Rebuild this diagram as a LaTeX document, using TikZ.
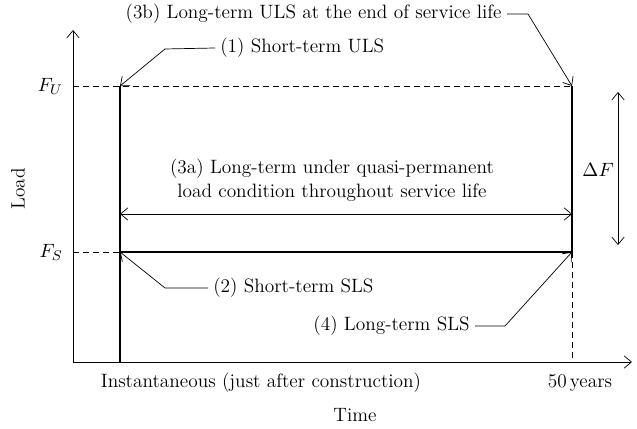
\documentclass[tikz,border=0pt]{standalone}
\usepackage{amsmath}
\usepackage{tikz}
\usetikzlibrary{arrows.meta}
\begin{document}
\begin{tikzpicture}[
  tip/.style={-{Straight Barb[length=4.2pt,width=7pt]}},
  axisline/.style={thin,linecolor},
  loadline/.style={line width=1.5pt,linecolor},
  guideline/.style={thin,linecolor,dash pattern=on 3.4pt off 2.3pt},
  leader/.style={thin,linecolor,tip},
  label/.style={inner sep=0.1cm,font=\fontsize{11pt}{13.9pt}\selectfont}
]
\definecolor{linecolor}{RGB}{0,0,0}
\useasboundingbox (0,0) rectangle (12.74,8.58);
\coordinate (origin) at (1.46,1.34);
\coordinate (ytop) at (1.46,7.98);
\coordinate (xend) at (12.64,1.34);
\coordinate (fu) at (1.46,6.86);
\coordinate (fs) at (1.46,3.54);
\coordinate (startbot) at (2.40,1.34);
\coordinate (startu) at (2.40,6.86);
\coordinate (starts) at (2.40,3.54);
\coordinate (endu) at (11.44,6.86);
\coordinate (ends) at (11.44,3.54);
\coordinate (endbot) at (11.44,1.34);
\coordinate (spanl) at (2.40,4.30);
\coordinate (spanr) at (11.44,4.30);
\coordinate (dftop) at (12.36,6.74);
\coordinate (dfbot) at (12.36,3.68);
\coordinate (bendb) at (10.56,8.30);
\coordinate (bendone) at (3.30,7.60);
\coordinate (bendtwo) at (3.30,2.82);
\coordinate (bendfour) at (10.10,2.06);
\draw (fu) [guideline] -- (endu);
\draw (fs) [guideline] -- (starts);
\draw (ends) [guideline] -- (endbot);
\draw (ytop) [axisline,{Straight Barb[length=4.2pt,width=7pt]}-{Straight Barb[length=4.2pt,width=7pt]}] -- (origin) -- (xend);
\draw (startbot) [loadline] -- (startu);
\draw (starts) [loadline] -- (ends) -- (endu);
\draw (spanl) [axisline,{Straight Barb[length=4.2pt,width=7pt]}-{Straight Barb[length=4.2pt,width=7pt]}] -- (spanr);
\draw (dftop) [axisline,{Straight Barb[length=4.2pt,width=7pt]}-{Straight Barb[length=4.2pt,width=7pt]}] -- (dfbot);
\node (fulabel) [label,anchor=east] at (1.36,6.86) {$F_U$};
\node (fslabel) [label,anchor=east] at (1.36,3.54) {$F_S$};
\node (loadlabel) [label,rotate=90] at (0.36,4.80) {Load};
\node (timelabel) [label] at (7.10,0.28) {Time};
\node (instlabel) [label] at (5.22,0.92) {Instantaneous (just after construction)};
\node (yearslabel) [label] at (11.60,0.92) {50\,years};
\node (dflabel) [label] at (11.96,5.18) {$\Delta F$};
\node (spanlabel) [label,align=center] at (6.64,4.98) {(3a) Long-term under quasi-permanent\\load condition throughout service life};
\node (ulsend) [label,anchor=east] at (10.14,8.30) {(3b) Long-term ULS at the end of service life};
\node (ulsshort) [label,anchor=west] at (4.30,7.62) {(1) Short-term ULS};
\node (slsshort) [label,anchor=west] at (4.16,2.82) {(2) Short-term SLS};
\node (slslong) [label,anchor=east] at (9.50,2.06) {(4) Long-term SLS};
\draw (ulsend.east) [leader] -- (bendb) -- (endu);
\draw (ulsshort.west) [leader] -- (bendone) -- (startu);
\draw (slsshort.west) [leader] -- (bendtwo) -- (starts);
\draw (slslong.east) [leader] -- (bendfour) -- (ends);
\end{tikzpicture}
\end{document}
